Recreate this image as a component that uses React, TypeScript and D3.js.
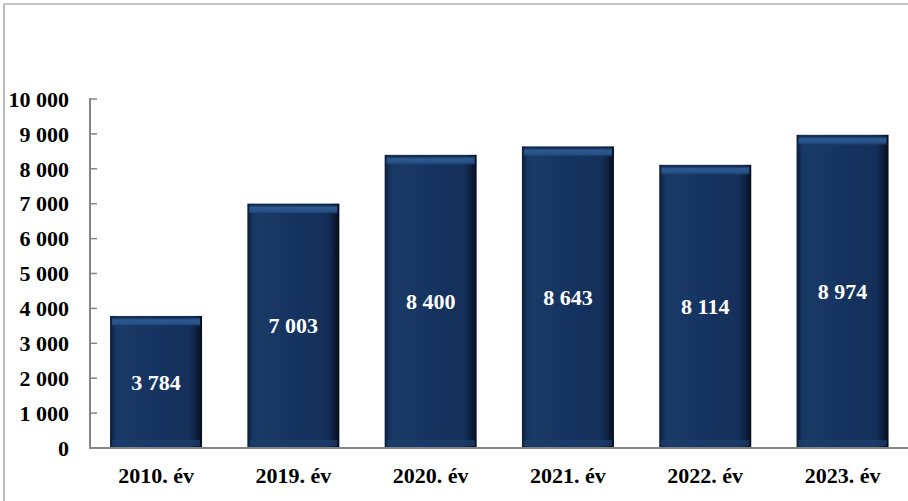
import React from "react";
import * as d3 from "d3";

const categories = ["2010. év", "2019. év", "2020. év", "2021. év", "2022. év", "2023. év"];
const values = [3784, 7003, 8400, 8643, 8114, 8974];
const yTicks = [0, 1000, 2000, 3000, 4000, 5000, 6000, 7000, 8000, 9000, 10000];

const W = 908;
const H = 501;
const axisX = 90;
const y0 = 448;
const y1 = 99;

const fmt = (v: number) => d3.format(",")(v).replace(/,/g, " ");

export default function App() {
  const x = d3.scaleBand<string>().domain(categories).range([87.4, 911.2]).paddingInner(0.33).paddingOuter(0.165);
  const y = d3.scaleLinear().domain([0, 10000]).range([y0, y1]);
  const bw = x.bandwidth();
  const font = "'Liberation Serif', 'Times New Roman', serif";

  return (
    <svg width={W} height={H} style={{ position: "absolute", left: 0, top: 0, background: "#fff" }}>
      <defs>
        <linearGradient id="barH" x1="0" x2="1" y1="0" y2="0">
          <stop offset="0" stopColor="#0b1c36" />
          <stop offset="0.06" stopColor="#163663" />
          <stop offset="0.12" stopColor="#1a3a66" />
          <stop offset="0.5" stopColor="#153360" />
          <stop offset="0.86" stopColor="#14305a" />
          <stop offset="0.92" stopColor="#0f2546" />
          <stop offset="1" stopColor="#050d1c" />
        </linearGradient>
        <linearGradient id="barTop" x1="0" x2="0" y1="0" y2="1">
          <stop offset="0" stopColor="#0d2140" />
          <stop offset="0.3" stopColor="#2d5a92" />
          <stop offset="0.7" stopColor="#264f83" />
          <stop offset="1" stopColor="#163663" stopOpacity="0" />
        </linearGradient>
      </defs>

      {/* frame */}
      <line x1={4} x2={W} y1={4} y2={4} stroke="#c4c4c4" strokeWidth={2} />
      <line x1={4} x2={4} y1={4} y2={H} stroke="#a6a6a6" strokeWidth={1.5} />

      {/* bars */}
      {categories.map((c, i) => {
        const bx = x(c) as number;
        const by = y(values[i]);
        const bh = y0 - by;
        return (
          <g key={c}>
            <rect x={bx} y={by} width={bw} height={bh} fill="url(#barH)" />
            <rect x={bx + 2} y={by + 1} width={bw - 4} height={10} fill="url(#barTop)" />
            <rect x={bx + 2} y={y0 - 8} width={bw - 4} height={6} fill="#1d3f6e" opacity={0.7} />
            <text
              x={bx + bw / 2}
              y={by + bh / 2}
              dy="0.35em"
              textAnchor="middle"
              fill="#ffffff"
              fontFamily={font}
              fontWeight="bold"
              fontSize={22}
            >
              {fmt(values[i])}
            </text>
          </g>
        );
      })}

      {/* y axis */}
      <line x1={axisX} x2={axisX} y1={y1 - 1} y2={y0 + 1} stroke="#858585" strokeWidth={2} />
      {yTicks.map((t) => (
        <g key={t}>
          <line x1={axisX} x2={axisX + 7} y1={y(t)} y2={y(t)} stroke="#858585" strokeWidth={1.5} />
          <text
            x={69}
            y={y(t)}
            dy="0.35em"
            textAnchor="end"
            fill="#000"
            fontFamily={font}
            fontWeight="bold"
            fontSize={22}
          >
            {fmt(t)}
          </text>
        </g>
      ))}

      {/* x axis */}
      <line x1={axisX - 1} x2={W} y1={y0} y2={y0} stroke="#858585" strokeWidth={2} />
      {categories.map((c) => (
        <text
          key={c}
          x={(x(c) as number) + bw / 2}
          y={483}
          textAnchor="middle"
          fill="#000"
          fontFamily={font}
          fontWeight="bold"
          fontSize={22}
        >
          {c}
        </text>
      ))}
    </svg>
  );
}
